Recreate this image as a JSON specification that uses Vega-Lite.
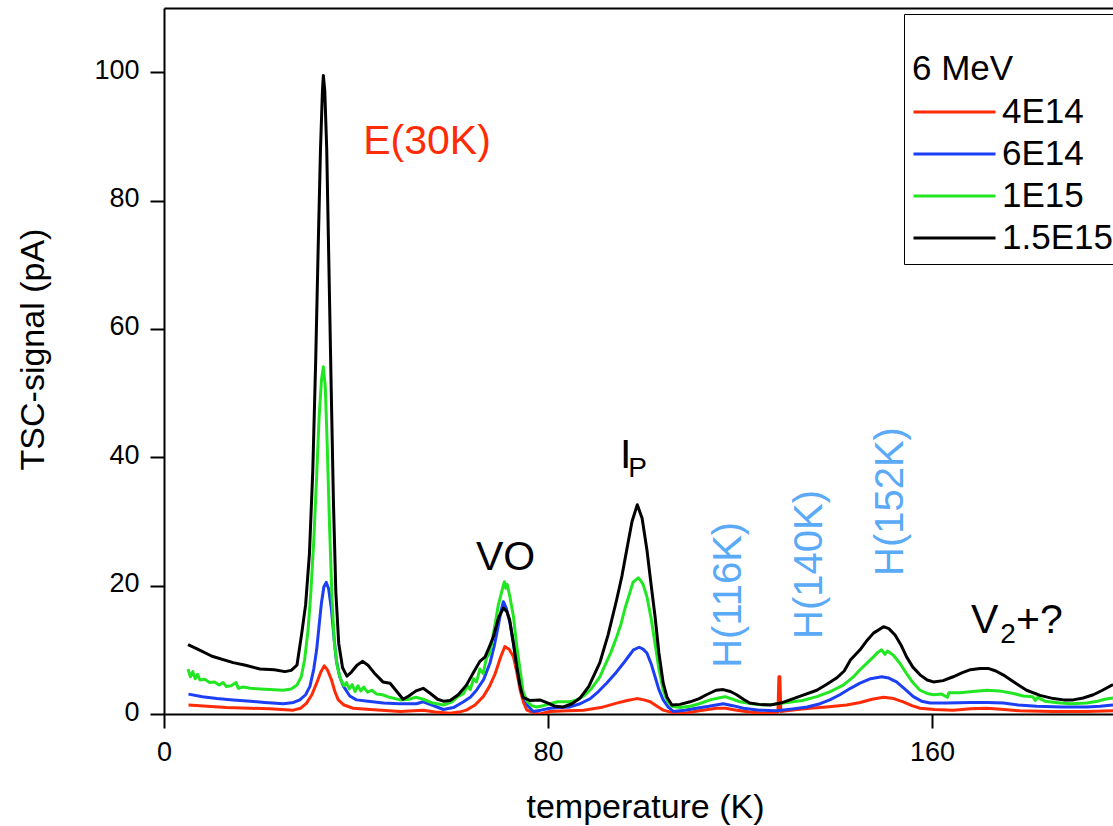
{
"$schema": "https://vega.github.io/schema/vega-lite/v6.json",
"background": "white",
"autosize": {"type": "none"},
"padding": {"left": 164, "top": 8, "right": 0, "bottom": 112},
"width": 949,
"height": 706,
"config": {
  "font": "Liberation Sans",
  "view": {"stroke": null},
  "axis": {"grid": false, "domainColor": "black", "domainWidth": 2, "tickColor": "black", "tickWidth": 2, "tickSize": 14, "labelColor": "black", "labelFontSize": 27, "titleColor": "black", "titleFontSize": 34, "titleFontWeight": "normal", "labelFlush": false, "labelOverlap": false}
},
"datasets": {
  "red": [
    {"T":5.1,"S":1.4},{"T":9,"S":1.2},{"T":13,"S":1.0},{"T":17.9,"S":0.9},{"T":22,"S":0.8},{"T":26.9,"S":0.6},{"T":28.5,"S":0.9},{"T":29.7,"S":1.7},{"T":30.8,"S":3.0},{"T":31.8,"S":4.8},{"T":32.7,"S":6.6},{"T":33.4,"S":7.5},{"T":34.1,"S":6.8},{"T":34.9,"S":5.3},{"T":35.6,"S":3.5},{"T":36.3,"S":2.2},{"T":37.5,"S":1.4},{"T":39.4,"S":0.9},{"T":43,"S":0.7},{"T":49.2,"S":0.4},{"T":52,"S":0.5},{"T":54,"S":0.6},{"T":56.5,"S":0.3},{"T":59.6,"S":0.1},{"T":61.5,"S":0.3},{"T":63,"S":0.6},{"T":64.8,"S":1.4},{"T":66.5,"S":2.7},{"T":67.8,"S":4.3},{"T":69,"S":6.3},{"T":70.1,"S":8.8},{"T":71,"S":10.5},{"T":71.9,"S":10.1},{"T":72.8,"S":8.9},{"T":73.5,"S":6.5},{"T":74.2,"S":3.7},{"T":74.9,"S":1.8},{"T":75.6,"S":0.6},{"T":77,"S":0.2},{"T":78.3,"S":0.0},{"T":80.4,"S":0.4},{"T":84,"S":0.5},{"T":87.4,"S":0.6},{"T":91,"S":1.0},{"T":94.3,"S":1.7},{"T":96.5,"S":2.1},{"T":98.5,"S":2.4},{"T":100,"S":2.2},{"T":101.3,"S":1.9},{"T":102.7,"S":1.2},{"T":104,"S":0.6},{"T":106,"S":0.2},{"T":108.2,"S":0.1},{"T":111.5,"S":0.5},{"T":115.1,"S":0.9},{"T":117,"S":0.9},{"T":119.3,"S":0.6},{"T":122,"S":0.3},{"T":124.9,"S":0.1},{"T":126.5,"S":0.2},{"T":127.9,"S":0.3},{"T":128.1,"S":5.8},{"T":128.3,"S":5.8},{"T":128.5,"S":0.4},{"T":130.5,"S":0.6},{"T":134.6,"S":0.9},{"T":138,"S":1.1},{"T":142.2,"S":1.4},{"T":145,"S":1.8},{"T":147.5,"S":2.3},{"T":149.9,"S":2.6},{"T":152,"S":2.4},{"T":154,"S":1.9},{"T":155.8,"S":1.3},{"T":157.5,"S":0.9},{"T":160.5,"S":0.7},{"T":164.4,"S":0.6},{"T":168,"S":0.8},{"T":171.4,"S":0.9},{"T":175,"S":0.7},{"T":178.3,"S":0.5},{"T":185,"S":0.4},{"T":192.2,"S":0.4},{"T":197.7,"S":0.5}
  ],
  "blue": [
    {"T":5.1,"S":3.1},{"T":8,"S":2.7},{"T":11,"S":2.4},{"T":14.4,"S":2.2},{"T":18,"S":2.0},{"T":21,"S":1.8},{"T":24.9,"S":1.6},{"T":27,"S":1.8},{"T":28.3,"S":2.2},{"T":29.5,"S":3.0},{"T":30.4,"S":4.3},{"T":31.2,"S":7},{"T":31.8,"S":10},{"T":32.3,"S":13.7},{"T":32.8,"S":17.3},{"T":33.3,"S":19.8},{"T":33.8,"S":20.5},{"T":34.3,"S":19.5},{"T":34.9,"S":16.2},{"T":35.4,"S":12},{"T":35.9,"S":8.4},{"T":36.6,"S":5.8},{"T":37.4,"S":4.3},{"T":38.7,"S":2.8},{"T":40.1,"S":2.2},{"T":42.5,"S":2.0},{"T":45.7,"S":1.7},{"T":49,"S":1.6},{"T":52.6,"S":1.6},{"T":54,"S":1.9},{"T":55.8,"S":1.4},{"T":58.2,"S":0.7},{"T":60.3,"S":1.0},{"T":62.4,"S":1.9},{"T":63.8,"S":2.6},{"T":65.1,"S":3.7},{"T":66.6,"S":5.4},{"T":67.9,"S":7.9},{"T":68.8,"S":10.6},{"T":69.6,"S":13.6},{"T":70.2,"S":16},{"T":70.7,"S":17.5},{"T":71.3,"S":16.5},{"T":72.1,"S":14.1},{"T":72.8,"S":11},{"T":73.5,"S":7.4},{"T":74.2,"S":4.5},{"T":74.9,"S":2.7},{"T":75.8,"S":1.3},{"T":76.9,"S":0.4},{"T":78.5,"S":0.6},{"T":80.4,"S":0.9},{"T":82.5,"S":1.0},{"T":84.6,"S":1.1},{"T":86.7,"S":1.6},{"T":88.8,"S":2.4},{"T":90.5,"S":3.5},{"T":92.2,"S":4.8},{"T":94,"S":6.3},{"T":95.7,"S":7.9},{"T":96.8,"S":9.0},{"T":97.8,"S":10},{"T":99,"S":10.4},{"T":99.8,"S":10.1},{"T":100.6,"S":9.5},{"T":101.5,"S":7.8},{"T":102.3,"S":5.8},{"T":103.1,"S":3.8},{"T":104,"S":2.2},{"T":105,"S":1.1},{"T":106.1,"S":0.4},{"T":108.5,"S":0.6},{"T":110.9,"S":0.9},{"T":113.5,"S":1.2},{"T":116.5,"S":1.6},{"T":118.5,"S":1.3},{"T":120.7,"S":0.9},{"T":124,"S":0.6},{"T":127.6,"S":0.5},{"T":131,"S":0.8},{"T":134,"S":1.1},{"T":136.7,"S":1.6},{"T":138.7,"S":2.2},{"T":140.8,"S":3.0},{"T":143,"S":4.0},{"T":145,"S":4.8},{"T":147.2,"S":5.5},{"T":149.5,"S":5.8},{"T":151,"S":5.6},{"T":152.6,"S":5.0},{"T":154.3,"S":3.9},{"T":156.1,"S":2.7},{"T":157.8,"S":2.0},{"T":159.6,"S":1.7},{"T":163,"S":1.7},{"T":168,"S":1.8},{"T":171.5,"S":1.8},{"T":174.9,"S":1.7},{"T":178,"S":1.4},{"T":181.8,"S":1.2},{"T":187,"S":1.1},{"T":192.2,"S":1.1},{"T":195,"S":1.2},{"T":197.7,"S":1.4}
  ],
  "green": [
    {"T":5.0,"S":7.0},{"T":5.5,"S":5.8},{"T":6.0,"S":6.6},{"T":6.5,"S":5.5},{"T":7.0,"S":6.2},{"T":7.5,"S":5.3},{"T":8.5,"S":5.4},{"T":9.5,"S":4.9},{"T":10.5,"S":5.0},{"T":11.5,"S":4.5},{"T":12.3,"S":4.9},{"T":13,"S":4.3},{"T":14,"S":4.4},{"T":15,"S":4.9},{"T":15.5,"S":4.0},{"T":16.5,"S":4.2},{"T":18,"S":4.0},{"T":20,"S":3.9},{"T":22,"S":3.8},{"T":24.8,"S":3.7},{"T":26.5,"S":3.9},{"T":27.7,"S":4.5},{"T":28.6,"S":5.8},{"T":29.3,"S":8.5},{"T":30,"S":13},{"T":30.6,"S":19},{"T":31.2,"S":27},{"T":31.8,"S":37},{"T":32.3,"S":46},{"T":32.8,"S":52},{"T":33.2,"S":54.1},{"T":33.6,"S":51},{"T":34,"S":42},{"T":34.5,"S":29},{"T":35,"S":18},{"T":35.5,"S":11},{"T":36.1,"S":7.4},{"T":36.8,"S":5.4},{"T":37.5,"S":4.4},{"T":38,"S":4.9},{"T":38.6,"S":3.9},{"T":39.2,"S":4.6},{"T":39.8,"S":3.5},{"T":40.4,"S":4.4},{"T":41,"S":3.6},{"T":41.6,"S":4.2},{"T":42.4,"S":3.4},{"T":43.3,"S":3.7},{"T":44.3,"S":3.1},{"T":45.5,"S":3.0},{"T":47,"S":2.6},{"T":49.2,"S":2.2},{"T":51,"S":2.3},{"T":52.5,"S":2.6},{"T":54,"S":2.3},{"T":56,"S":1.7},{"T":58.2,"S":1.4},{"T":60,"S":1.9},{"T":61,"S":2.6},{"T":62.4,"S":3.2},{"T":63.2,"S":4.4},{"T":63.8,"S":3.8},{"T":64.5,"S":5.5},{"T":65.1,"S":5.0},{"T":65.8,"S":7.0},{"T":66.5,"S":6.3},{"T":67.2,"S":8.8},{"T":67.9,"S":9.5},{"T":68.5,"S":12},{"T":69.1,"S":14.5},{"T":69.6,"S":16.8},{"T":70.1,"S":18.3},{"T":70.5,"S":19.5},{"T":70.9,"S":20.6},{"T":71.2,"S":19.6},{"T":71.5,"S":20.2},{"T":72,"S":18.5},{"T":72.8,"S":15.2},{"T":73.5,"S":10.5},{"T":74.2,"S":6.8},{"T":74.8,"S":3.5},{"T":75.6,"S":2.0},{"T":76.6,"S":1.3},{"T":77.6,"S":1.1},{"T":79,"S":1.3},{"T":80.4,"S":1.6},{"T":82,"S":1.9},{"T":84.6,"S":1.9},{"T":86,"S":2.2},{"T":87.4,"S":2.8},{"T":89,"S":3.9},{"T":90.8,"S":5.8},{"T":92,"S":7.8},{"T":93.1,"S":9.6},{"T":94.3,"S":12},{"T":95.2,"S":14},{"T":96.1,"S":16.6},{"T":97,"S":18.8},{"T":97.7,"S":20.5},{"T":98.3,"S":20.9},{"T":98.8,"S":21.2},{"T":99.3,"S":20.8},{"T":99.8,"S":20.2},{"T":100.6,"S":18.3},{"T":101.5,"S":14.8},{"T":102.3,"S":11},{"T":103.1,"S":7.0},{"T":104,"S":3.7},{"T":104.8,"S":2.1},{"T":105.8,"S":1.2},{"T":107.5,"S":1.0},{"T":109.6,"S":1.2},{"T":111.5,"S":1.6},{"T":113.8,"S":2.2},{"T":115.5,"S":2.5},{"T":116.9,"S":2.7},{"T":118.5,"S":2.3},{"T":120,"S":1.9},{"T":122.5,"S":1.6},{"T":124.9,"S":1.4},{"T":127,"S":1.5},{"T":129,"S":1.7},{"T":131,"S":1.9},{"T":133,"S":2.1},{"T":136,"S":2.7},{"T":138.8,"S":3.5},{"T":141.5,"S":4.5},{"T":143.5,"S":5.7},{"T":145,"S":6.9},{"T":146.4,"S":7.9},{"T":147.8,"S":8.9},{"T":148.7,"S":9.6},{"T":149.5,"S":10},{"T":150.2,"S":9.3},{"T":150.7,"S":9.8},{"T":151.9,"S":9.2},{"T":153.3,"S":7.9},{"T":154.7,"S":6.3},{"T":156,"S":4.9},{"T":157.5,"S":3.7},{"T":159,"S":3.2},{"T":160.3,"S":3.0},{"T":162,"S":3.1},{"T":163.2,"S":2.6},{"T":163.5,"S":3.3},{"T":165.8,"S":3.3},{"T":168.5,"S":3.5},{"T":171.4,"S":3.7},{"T":174,"S":3.6},{"T":177,"S":3.2},{"T":179,"S":2.8},{"T":181,"S":2.7},{"T":181.5,"S":2.1},{"T":182,"S":2.6},{"T":183.5,"S":2.0},{"T":186.7,"S":1.7},{"T":189,"S":1.6},{"T":192.2,"S":1.7},{"T":194.5,"S":2.0},{"T":196,"S":2.3},{"T":197.7,"S":2.5}
  ],
  "black": [
    {"T":5.0,"S":10.8},{"T":7,"S":10.1},{"T":10,"S":9.0},{"T":14.4,"S":8.0},{"T":17,"S":7.6},{"T":20,"S":7.0},{"T":23,"S":6.9},{"T":25.2,"S":6.6},{"T":26.5,"S":6.8},{"T":27.7,"S":7.6},{"T":28.7,"S":12.6},{"T":29.5,"S":17},{"T":30.3,"S":25},{"T":31,"S":38},{"T":31.6,"S":55},{"T":32.1,"S":72},{"T":32.6,"S":88},{"T":33.0,"S":97},{"T":33.2,"S":99.5},{"T":33.5,"S":97},{"T":33.9,"S":88},{"T":34.3,"S":72},{"T":34.8,"S":52},{"T":35.3,"S":33},{"T":35.8,"S":19},{"T":36.4,"S":11},{"T":37.2,"S":7.2},{"T":38.1,"S":5.9},{"T":39,"S":6.5},{"T":40.2,"S":7.6},{"T":41.4,"S":8.2},{"T":42.5,"S":7.6},{"T":43.8,"S":6.4},{"T":45.6,"S":5.0},{"T":47.1,"S":4.8},{"T":48.5,"S":3.5},{"T":49.8,"S":2.3},{"T":51,"S":2.8},{"T":52.5,"S":3.6},{"T":54,"S":4.0},{"T":55.5,"S":3.2},{"T":57,"S":2.3},{"T":58.2,"S":2.0},{"T":59.6,"S":2.1},{"T":61.3,"S":3.0},{"T":63,"S":4.5},{"T":64.5,"S":6.5},{"T":65.8,"S":8.2},{"T":66.9,"S":8.9},{"T":67.8,"S":10.5},{"T":68.6,"S":12},{"T":69.7,"S":15},{"T":70.7,"S":16.5},{"T":71.4,"S":16.0},{"T":72,"S":14.7},{"T":72.8,"S":11},{"T":73.5,"S":7.4},{"T":74.2,"S":4.3},{"T":74.8,"S":2.6},{"T":76.3,"S":2.1},{"T":78.3,"S":2.2},{"T":80,"S":1.7},{"T":81.5,"S":1.2},{"T":83.2,"S":1.1},{"T":85,"S":1.6},{"T":86.7,"S":2.5},{"T":88.5,"S":4.3},{"T":90.8,"S":8.0},{"T":92.5,"S":12.3},{"T":94.3,"S":17.8},{"T":95.4,"S":21.5},{"T":96.4,"S":25.6},{"T":97.5,"S":30},{"T":98.6,"S":32.6},{"T":99.6,"S":30.5},{"T":100.6,"S":25.6},{"T":101.5,"S":20},{"T":102.3,"S":15.2},{"T":103.1,"S":9.5},{"T":104,"S":4.8},{"T":104.8,"S":2.6},{"T":105.8,"S":1.4},{"T":107.5,"S":1.5},{"T":109.6,"S":1.9},{"T":111.5,"S":2.4},{"T":113,"S":3.0},{"T":115,"S":3.7},{"T":116.5,"S":3.8},{"T":118,"S":3.5},{"T":119.3,"S":3.0},{"T":120.7,"S":2.3},{"T":122,"S":1.7},{"T":124,"S":1.5},{"T":126.3,"S":1.4},{"T":128.5,"S":1.7},{"T":130.4,"S":2.2},{"T":133,"S":2.9},{"T":136,"S":3.7},{"T":138,"S":4.6},{"T":140.1,"S":5.6},{"T":141.7,"S":6.7},{"T":143,"S":8.4},{"T":145,"S":10},{"T":146.5,"S":11.5},{"T":147.8,"S":12.6},{"T":149.9,"S":13.6},{"T":151,"S":13.3},{"T":152.3,"S":12.3},{"T":153.5,"S":10.8},{"T":154.7,"S":8.9},{"T":156,"S":7.3},{"T":157.5,"S":6.1},{"T":159,"S":5.3},{"T":160.3,"S":5.0},{"T":162.3,"S":5.2},{"T":164.4,"S":5.8},{"T":166.2,"S":6.4},{"T":168,"S":6.9},{"T":170,"S":7.1},{"T":171.7,"S":7.1},{"T":173.3,"S":6.7},{"T":174.8,"S":6.1},{"T":177.2,"S":4.9},{"T":179.7,"S":3.7},{"T":182.5,"S":2.9},{"T":185.3,"S":2.4},{"T":187.4,"S":2.2},{"T":189.4,"S":2.2},{"T":191.5,"S":2.5},{"T":193.6,"S":3.0},{"T":195.5,"S":3.7},{"T":197.7,"S":4.6}
  ],
  "labelsBig": [
    {"T":65.0,"S":22.4,"label":"VO"},
    {"T":95.0,"S":38.4,"label":"I"},
    {"T":168.1,"S":12.6,"label":"V"},
    {"T":177.5,"S":12.6,"label":"+?"}
  ],
  "labelsSub": [
    {"T":96.7,"S":37.0,"label":"P"},
    {"T":174.2,"S":11.0,"label":"2"}
  ],
  "labelsRed": [
    {"T":41.5,"S":87.2,"label":"E(30K)"}
  ],
  "labelsBlue": [
    {"T":120.3,"S":7.2,"label":"H(116K)"},
    {"T":137.1,"S":11.7,"label":"H(140K)"},
    {"T":153.9,"S":21.5,"label":"H(152K)"}
  ]
},
"resolve": {"axis": {"x": "independent", "y": "independent"}},
"layer": [
  {
    "data": {"name": "red"},
    "mark": {"type": "line", "strokeWidth": 3, "strokeJoin": "round", "clip": true},
    "encoding": {
      "x": {"field": "T", "type": "quantitative", "scale": {"domain": [0, 197.7], "nice": false},
        "axis": {"orient": "bottom", "values": [0, 80, 160], "labelFontSize": 27, "labelColor": "black", "labelPadding": 11, "tickSize": 14, "tickWidth": 2, "domainWidth": 2, "title": "temperature (K)", "titleFontSize": 34, "titleX": 481, "titleY": 103, "titleBaseline": "alphabetic", "titleAnchor": null}},
      "y": {"field": "S", "type": "quantitative", "scale": {"domain": [0, 110], "nice": false},
        "axis": {"orient": "left", "values": [0, 20, 40, 60, 80, 100], "labelFontSize": 27, "labelColor": "black", "labelPadding": 11, "labelOffset": -2, "tickSize": 14, "tickWidth": 2, "domainWidth": 2, "title": "TSC-signal (pA)", "titleFontSize": 34, "titleX": -121, "titleY": 341, "titleBaseline": "alphabetic", "titleAngle": 270}},
      "color": {"datum": "4E14", "type": "nominal",
        "scale": {"domain": ["4E14", "6E14", "1E15", "1.5E15"], "range": ["#ff2b06", "#1c3ff5", "#22e622", "#000000"]},
        "legend": {"orient": "none", "legendX": 740, "legendY": 6, "title": ["", "6 MeV"], "titleLineHeight": 30, "titleFontSize": 35, "titleFontWeight": "normal", "titleColor": "black", "titlePadding": 10, "labelFontSize": 35, "labelColor": "black", "labelOffset": 5, "labelLimit": 0, "symbolType": "stroke", "symbolSize": 6724, "symbolStrokeWidth": 3, "clipHeight": 30, "rowPadding": 7, "padding": 8, "strokeColor": "black", "fillColor": "white"}}
    }
  },
  {
    "data": {"name": "blue"},
    "mark": {"type": "line", "strokeWidth": 3, "strokeJoin": "round", "clip": true},
    "encoding": {
      "x": {"field": "T", "type": "quantitative", "axis": null},
      "y": {"field": "S", "type": "quantitative", "axis": null},
      "color": {"datum": "6E14", "type": "nominal"}
    }
  },
  {
    "data": {"name": "green"},
    "mark": {"type": "line", "strokeWidth": 3, "strokeJoin": "round", "clip": true},
    "encoding": {
      "x": {"field": "T", "type": "quantitative", "axis": null},
      "y": {"field": "S", "type": "quantitative", "axis": null},
      "color": {"datum": "1E15", "type": "nominal"}
    }
  },
  {
    "data": {"name": "black"},
    "mark": {"type": "line", "strokeWidth": 3, "strokeJoin": "round", "clip": true},
    "encoding": {
      "x": {"field": "T", "type": "quantitative", "axis": null},
      "y": {"field": "S", "type": "quantitative", "axis": null},
      "color": {"datum": "1.5E15", "type": "nominal"}
    }
  },
  {
    "data": {"name": "labelsBig"},
    "mark": {"type": "text", "align": "left", "baseline": "alphabetic", "fontSize": 41, "font": "Liberation Sans", "color": "black"},
    "encoding": {
      "x": {"field": "T", "type": "quantitative", "axis": {"orient": "top", "labels": false, "ticks": false, "domain": true, "domainWidth": 2, "title": null}},
      "y": {"field": "S", "type": "quantitative", "axis": null},
      "text": {"field": "label"}
    }
  },
  {
    "data": {"name": "labelsSub"},
    "mark": {"type": "text", "align": "left", "baseline": "alphabetic", "fontSize": 28, "font": "Liberation Sans", "color": "black"},
    "encoding": {
      "x": {"field": "T", "type": "quantitative", "axis": null},
      "y": {"field": "S", "type": "quantitative", "axis": null},
      "text": {"field": "label"}
    }
  },
  {
    "data": {"name": "labelsRed"},
    "mark": {"type": "text", "align": "left", "baseline": "alphabetic", "fontSize": 41, "font": "Liberation Sans", "color": "#ff2b06"},
    "encoding": {
      "x": {"field": "T", "type": "quantitative", "axis": null},
      "y": {"field": "S", "type": "quantitative", "axis": null},
      "text": {"field": "label"}
    }
  },
  {
    "data": {"name": "labelsBlue"},
    "mark": {"type": "text", "align": "left", "baseline": "alphabetic", "fontSize": 40, "font": "Liberation Sans", "color": "#5aaaf7", "angle": 270},
    "encoding": {
      "x": {"field": "T", "type": "quantitative", "axis": null},
      "y": {"field": "S", "type": "quantitative", "axis": null},
      "text": {"field": "label"}
    }
  }
]
}
